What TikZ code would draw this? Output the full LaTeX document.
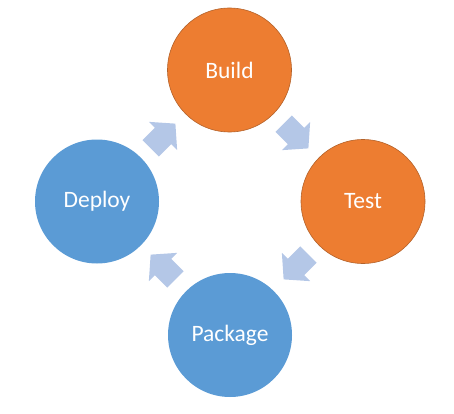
\documentclass[tikz,border=0pt]{standalone}
\usepackage{fontspec}
\setmainfont{Carlito}
\definecolor{orangefill}{HTML}{ED7D31}
\definecolor{orangeline}{HTML}{B4622A}
\definecolor{bluefill}{HTML}{5B9BD5}
\definecolor{arrowfill}{HTML}{B4C7E7}
\tikzset{
  stage/.style={circle, minimum size=124pt, inner sep=0pt, text=white,
    font=\fontsize{23.5}{28}\selectfont},
  orangestage/.style={stage, fill=orangefill, draw=orangeline, line width=0.6pt},
  bluestage/.style={stage, fill=bluefill},
  pics/cyclearrow/.style={code={
    \fill[arrowfill] (-17.5,-11.5) -- (0,-11.5) -- (0,-20) -- (17.5,0)
      -- (0,20) -- (0,11.5) -- (-17.5,11.5) -- cycle;}}
}
\begin{document}
\begin{tikzpicture}[x=1pt,y=1pt]
\useasboundingbox (0,0) rectangle (454,413);
\node[orangestage] (build)   at (229.5,343) {Build};
\node[orangestage] (test)    at (363,211.5) {Test};
\node[bluestage]   (package) at (230,78)    {Package};
\node[bluestage]   (deploy)  at (97,211.5)  {Deploy};
\pic[rotate=45]   at (163,277) {cyclearrow};
\pic[rotate=-45]  at (296,277) {cyclearrow};
\pic[rotate=-135] at (296,146) {cyclearrow};
\pic[rotate=135]  at (163,146) {cyclearrow};
\end{tikzpicture}
\end{document}
